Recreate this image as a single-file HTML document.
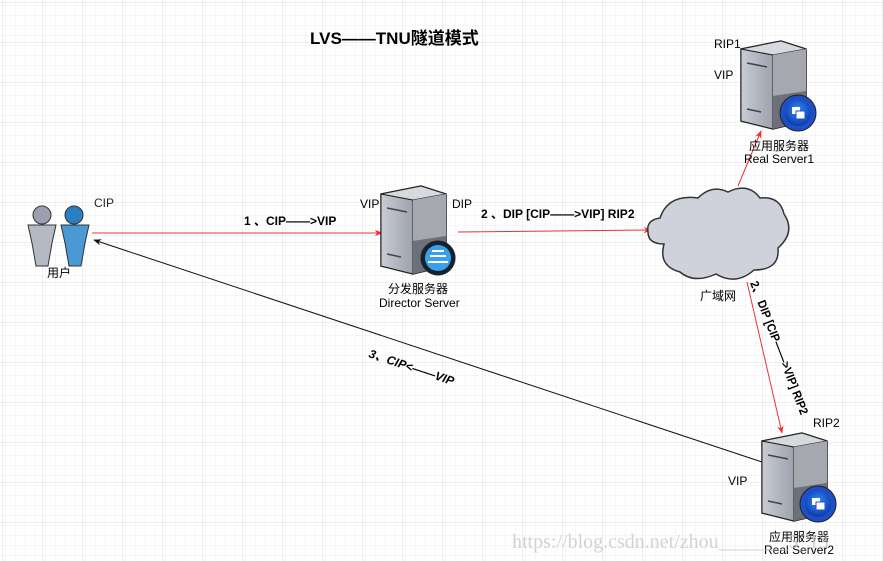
<!DOCTYPE html>
<html><head><meta charset="utf-8"><style>
body{margin:0;background:#fff;}
svg{display:block;font-family:"Liberation Sans","Noto Sans CJK SC",sans-serif;}
</style></head><body>
<svg width="883" height="561" viewBox="0 0 883 561" xmlns="http://www.w3.org/2000/svg">
<defs>
<pattern id="g" width="10" height="10" patternUnits="userSpaceOnUse" x="3" y="3"><path d="M10 0V10H0" fill="none" stroke="#ececec" stroke-width="1"/></pattern>
<pattern id="G" width="40" height="40" patternUnits="userSpaceOnUse" x="3" y="3"><rect width="40" height="40" fill="url(#g)"/><path d="M40 0V40H0" fill="none" stroke="#dcdcdc" stroke-width="1"/></pattern>
<linearGradient id="front" x1="0" x2="1"><stop offset="0" stop-color="#c9ccd4"/><stop offset="1" stop-color="#9da2ad"/></linearGradient>
<radialGradient id="badge" cx="0.5" cy="0.4" r="0.6"><stop offset="0" stop-color="#3a8cff"/><stop offset="1" stop-color="#0a3aa8"/></radialGradient>
<g id="srv">
<path d="M0 8 L40 0 L65 8 L65 80 L32 88 L0 80 Z" fill="#8a8f99" stroke="#222" stroke-width="1.5"/>
<path d="M0 8 L32 14 L32 88 L0 80 Z" fill="url(#front)" stroke="#222" stroke-width="1"/>
<path d="M0 8 L40 0 L65 8 L32 14 Z" fill="#d7d9de" stroke="#222" stroke-width="1"/>
<path d="M32 14 L65 8 L65 50 L32 55 Z" fill="#a5a8ae"/>
<path d="M32 55 L65 50 L65 80 L32 88Z" fill="#6c7079"/>
<path d="M6 22 L26 26 M6 68 L20 71" stroke="#444" stroke-width="1.5"/>
</g>
<marker id="ar" viewBox="0 0 10 10" refX="9" refY="5" markerWidth="8" markerHeight="8" orient="auto"><path d="M0 1L10 5L0 9L3 5Z" fill="#f03030"/></marker>
<marker id="ab" viewBox="0 0 10 10" refX="9" refY="5" markerWidth="8" markerHeight="8" orient="auto"><path d="M0 1L10 5L0 9L3 5Z" fill="#111"/></marker>
</defs>
<rect width="883" height="561" fill="url(#G)"/>
<text x="310" y="44" font-size="17" font-weight="bold">LVS——TNU隧道模式</text>

<g stroke="#333" stroke-width="1">
<circle cx="42" cy="215" r="9" fill="#9aa0ad"/>
<path d="M28 225 h28 l-4 18 l-4 23 h-12 l-4-23 Z" fill="#b4b9c4"/>
<circle cx="74" cy="215" r="9" fill="#2a7fc0"/>
<path d="M61 225 h28 l-4 18 l-4 23 h-12 l-4-23 Z" fill="#4a98d4"/>
</g>
<text x="94" y="207" font-size="12" fill="#222">CIP</text>
<text x="47" y="277" font-size="12">用户</text>

<line x1="92" y1="233" x2="382" y2="233" stroke="#f03030" marker-end="url(#ar)"/>
<text x="244" y="225" font-size="12" font-weight="bold">1 、CIP——&gt;VIP</text>
<line x1="458" y1="232" x2="651" y2="230" stroke="#f03030" marker-end="url(#ar)"/>
<text x="481" y="218" font-size="12" font-weight="bold">2 、DIP [CIP——&gt;VIP] RIP2</text>
<line x1="738" y1="186" x2="761" y2="131" stroke="#f03030" marker-end="url(#ar)"/>
<line x1="747" y1="282" x2="782" y2="433" stroke="#f03030" marker-end="url(#ar)"/>
<text transform="translate(750,283) rotate(69)" font-size="12" font-weight="bold" textLength="142" lengthAdjust="spacingAndGlyphs">2、 DIP [CIP——&gt;VIP] RIP2</text>
<line x1="762" y1="462" x2="94" y2="240" stroke="#111" marker-end="url(#ab)"/>
<text transform="translate(368,357) rotate(18.5)" font-size="12" font-weight="bold" font-style="italic">3、CIP&lt;——VIP</text>

<use href="#srv" x="381" y="186"/>
<circle cx="438" cy="258" r="17" fill="#123" stroke="#222"/>
<circle cx="438" cy="258" r="13" fill="#3aa0e8"/>
<path d="M428 262 h20 M430 256 h16 M432 251 h12" stroke="#fff" stroke-width="2"/>
<text x="360" y="208" font-size="12">VIP</text>
<text x="452" y="208" font-size="12">DIP</text>
<text x="388" y="293" font-size="12">分发服务器</text>
<text x="379" y="307" font-size="12">Director Server</text>

<path d="M660 218 q-14 2 -12 14 q0 12 16 12 q-6 22 16 28 q14 12 36 2 q20 12 38 -4 q26 0 24-22 q18-16 6-34 q-4-18-24-16 q-12-16-32-6 q-16-8-30 6 q-30-4-38 20 Z" fill="#cfd2da" stroke="#333" stroke-width="1.5"/>
<text x="700" y="300" font-size="12">广域网</text>

<use href="#srv" x="741" y="41"/>
<circle cx="798" cy="113" r="18" fill="#1e4fc8" stroke="#222"/>
<circle cx="798" cy="113" r="13" fill="url(#badge)"/>
<rect x="792" y="107" width="8" height="7" fill="#fff"/><rect x="796" y="111" width="9" height="8" fill="#fff" stroke="#1e4fc8"/>
<text x="714" y="48" font-size="12">RIP1</text>
<text x="714" y="79" font-size="12">VIP</text>
<text x="749" y="150" font-size="12">应用服务器</text>
<text x="744" y="163" font-size="12">Real Server1</text>

<use href="#srv" x="762" y="433"/>
<circle cx="818" cy="504" r="18" fill="#1e4fc8" stroke="#222"/>
<circle cx="818" cy="504" r="13" fill="url(#badge)"/>
<rect x="812" y="498" width="8" height="7" fill="#fff"/><rect x="816" y="502" width="9" height="8" fill="#fff" stroke="#1e4fc8"/>
<text x="813" y="427" font-size="12">RIP2</text>
<text x="728" y="485" font-size="12">VIP</text>
<text x="769" y="541" font-size="12">应用服务器</text>
<text x="764" y="554" font-size="12">Real Server2</text>

<text x="512" y="548" font-size="20" fill="#c8c8c8" fill-opacity="0.8" font-family="Liberation Serif, serif">https://blog.csdn.net/zhou_______5_13</text>
</svg>
</body></html>
